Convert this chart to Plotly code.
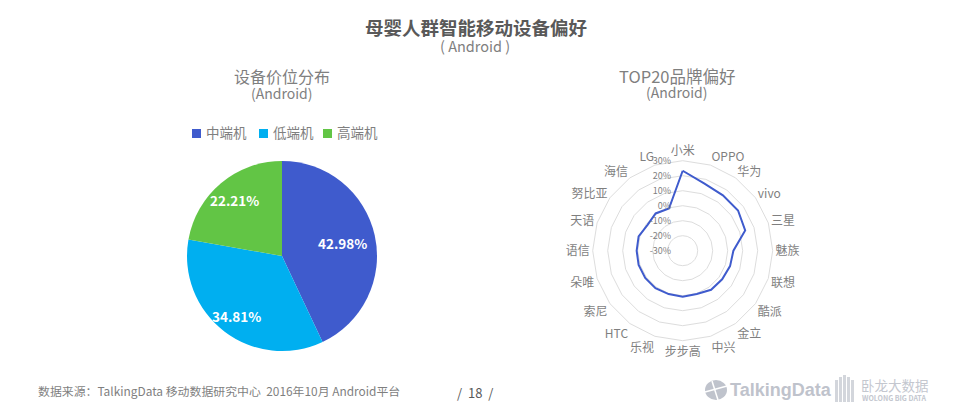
import plotly.graph_objects as go

FONT = "Noto Sans CJK SC, Noto Sans, sans-serif"
GRAY = "#7f7f7f"
LOGO = "#bfc3cc"

pie_labels = ["中端机", "低端机", "高端机"]
pie_values = [42.98, 34.81, 22.21]
pie_colors = ["#3f5bcd", "#00aff0", "#62c545"]

brands = ["小米", "OPPO", "华为", "vivo", "三星", "魅族", "联想", "酷派", "金立", "中兴",
          "步步高", "乐视", "HTC", "索尼", "朵唯", "语信", "天语", "努比亚", "海信", "LG"]
brand_values = [23.3, 17.0, 15.6, 15.6, 13.8, 3.8, 3.2, 2.5, 2.2, 0.4,
                0.7, 0.4, 0.9, 0.9, 0.9, 0.7, 0.9, -0.9, 0.7, -0.4]
radial_ticks = [-30, -20, -10, 0, 10, 20, 30]

# The page puts the figure 8px in from the window's corner.
OFF = 8
W, H = 954 - OFF, 418 - OFF


def px(x):
    return (x - OFF) / W


def py(y):
    return 1 - (y - OFF) / H


fig = go.Figure()
fig.add_trace(go.Pie(
    labels=pie_labels, values=pie_values, sort=False, direction="clockwise", rotation=0,
    marker=dict(colors=pie_colors, line=dict(width=0)), textinfo="none", showlegend=False,
    domain=dict(x=[px(187), px(377)], y=[py(351), py(161)]),
))
fig.add_trace(go.Scatterpolar(
    r=brand_values + brand_values[:1], theta=brands + brands[:1], mode="lines",
    line=dict(color="#3f5bcd", width=2), showlegend=False,
))


def txt(x, y, s, size, color=GRAY, weight="normal", anchor="center", family=FONT):
    fig.add_annotation(x=px(x), y=py(y), xref="paper", yref="paper", text=s, showarrow=False,
                       xanchor=anchor, yanchor="middle",
                       font=dict(size=size, color=color, family=family, weight=weight))


txt(476, 26.5, "母婴人群智能移动设备偏好", 18.5, "#595959", "bold")
txt(475, 45.5, "( Android )", 14.5)
txt(282, 76, "设备价位分布", 16)
txt(282, 93.5, "(Android)", 14)
txt(677, 76, "TOP20品牌偏好", 16.5)
txt(677, 92.5, "(Android)", 14)
txt(36, 390, "数据来源：TalkingData 移动数据研究中心  2016年10月 Android平台", 11.9, anchor="left")
txt(475, 392.5, "/  18  /", 13, "#595959")
txt(728, 390, "TalkingData", 18, LOGO, "bold", "left", "Liberation Sans Narrow, Liberation Sans, sans-serif")
txt(859, 384.5, "卧龙大数据", 13.5, "#c4c7cf", "normal", "left")
txt(860, 398, "WOLONG BIG DATA", 7, "#c4c7cf", "bold", "left")

for (x, y), v in zip([(342, 243), (236, 316), (234, 200)], pie_values):
    txt(x, y, f"{v:.2f}%", 13.5, "white", "bold")


def rect(x0, y0, x1, y1, color):
    return dict(type="rect", xref="paper", yref="paper", x0=px(x0), x1=px(x1),
                y0=py(y1), y1=py(y0), fillcolor=color, line_width=0)


shapes = []
for x, name, color in zip([192, 259, 323], pie_labels, pie_colors):
    shapes.append(rect(x, 129, x + 9, 138, color))
    txt(x + 12, 132, name, 13.5, anchor="left")

# TalkingData badge
shapes.append(dict(type="circle", xref="paper", yref="paper", x0=px(705), x1=px(727),
                   y0=py(400), y1=py(380), fillcolor=LOGO, line_width=0))
for x0, y0, x1, y1 in [(705, 392, 727, 386), (712, 381, 718, 400)]:
    shapes.append(dict(type="line", xref="paper", yref="paper", x0=px(x0), x1=px(x1),
                       y0=py(y0), y1=py(y1), line=dict(color="white", width=1.5)))
# Wolong building
for i, x in enumerate([835, 839, 843, 847, 851]):
    top = [380, 377, 375, 377, 380][i]
    shapes.append(rect(x, top, x + 3, 402, "#d3d6dc"))

fig.update_layout(
    width=W, height=H, margin=dict(l=0, r=0, t=0, b=0), autosize=False,
    paper_bgcolor="white", plot_bgcolor="white", shapes=shapes,
    font=dict(family=FONT, color=GRAY), showlegend=False,
    polar=dict(
        domain=dict(x=[px(682.7 - 90), px(682.7 + 90)], y=[py(250.7 + 90), py(250.7 - 90)]),
        gridshape="linear", bgcolor="white",
        angularaxis=dict(direction="clockwise", rotation=90, showgrid=False, showline=True,
                         linecolor="#dddddd", linewidth=1, ticks="", ticklen=0,
                         tickfont=dict(size=12, color=GRAY, family=FONT)),
        radialaxis=dict(range=[-30, 30], tickmode="array", tickvals=radial_ticks,
                        ticktext=[f"{v}%" for v in radial_ticks],
                        angle=90, tickangle=90, side="counterclockwise", showline=False,
                        ticks="outside", ticklen=8, tickcolor="rgba(0,0,0,0)",
                        gridcolor="#dddddd", gridwidth=1,
                        tickfont=dict(size=9, color=GRAY, family=FONT)),
    ),
)
fig.write_html("out.html")
